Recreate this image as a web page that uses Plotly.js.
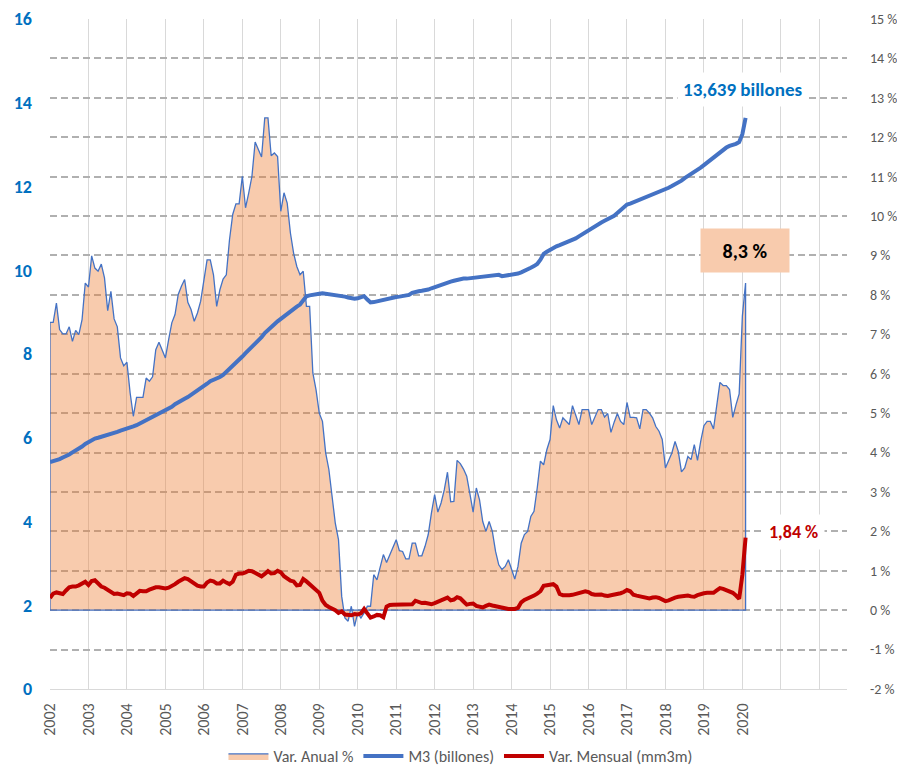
<!DOCTYPE html>
<html>
<head>
<meta charset="utf-8">
<script src="https://cdn.plot.ly/plotly-3.0.1.min.js"></script>
<style>
html,body{margin:0;padding:0;background:#fff;}
#chart{width:897px;height:770px;}
#chart .gridlayer path{shape-rendering:crispEdges;}
</style>
</head>
<body>
<div id="chart"></div>
<script>
// Monthly data starting January 2002
const START_YEAR = 2002;

// Var. Anual % (right axis)
const annualVar = [
  7.30, 7.30, 7.79, 7.12, 7.01, 7.01, 7.19, 6.82, 7.10, 6.99, 7.37, 8.30,
  8.20, 8.99, 8.68, 8.60, 8.78, 8.43, 7.60, 8.09, 7.39, 7.19, 6.40, 6.20,
  6.29, 5.51, 4.92, 5.40, 5.40, 5.40, 5.89, 5.81, 5.92, 6.61, 6.80, 6.60,
  6.40, 6.86, 7.29, 7.50, 8.01, 8.22, 8.39, 7.81, 7.63, 7.33, 7.54, 7.84,
  8.43, 8.89, 8.89, 8.51, 7.71, 8.13, 8.40, 8.51, 9.40, 10.04, 10.31, 10.31,
  11.01, 10.21, 10.59, 11.01, 11.88, 11.68, 11.50, 12.49, 12.49, 11.53, 11.60, 11.51,
  10.12, 10.59, 10.33, 9.57, 9.06, 8.72, 8.51, 8.60, 7.71, 7.71, 6.02, 5.59,
  5.00, 4.79, 3.99, 3.57, 2.89, 2.21, 1.79, 0.35, -0.20, -0.28, 0.10, -0.41,
  -0.07, -0.20, -0.07, 0.10, 0.10, 0.90, 0.77, 1.07, 1.41, 1.21, 1.41, 1.62,
  1.79, 1.51, 1.49, 1.30, 1.30, 1.70, 1.70, 1.38, 1.38, 1.62, 1.92, 2.47,
  2.93, 2.49, 2.72, 3.05, 3.50, 2.75, 2.76, 3.80, 3.72, 3.58, 3.40, 2.95,
  2.49, 3.10, 2.80, 2.25, 2.00, 2.25, 2.00, 1.49, 1.15, 1.03, 1.11, 1.28,
  1.03, 0.79, 1.11, 1.70, 1.92, 2.00, 2.38, 2.51, 3.10, 3.78, 3.69, 4.07,
  4.33, 5.19, 4.83, 4.62, 4.88, 4.79, 4.71, 5.19, 4.92, 4.71, 5.09, 5.09,
  5.09, 4.71, 4.88, 5.09, 5.09, 4.90, 4.99, 4.51, 4.77, 4.99, 4.79, 4.71,
  5.27, 4.89, 4.89, 4.88, 4.60, 5.09, 5.09, 5.00, 4.88, 4.66, 4.54, 4.33,
  3.61, 3.78, 3.99, 4.28, 4.03, 3.51, 3.61, 3.90, 3.82, 4.20, 3.80, 4.28,
  4.68, 4.79, 4.79, 4.60, 5.26, 5.78, 5.70, 5.70, 5.60, 4.89, 5.21, 5.49,
  7.46, 8.30
];

// M3 (billones) (left axis)
const m3 = [
  5.42, 5.44, 5.47, 5.49, 5.53, 5.56, 5.60, 5.65, 5.69, 5.74, 5.79, 5.85,
  5.90, 5.95, 5.98, 6.00, 6.02, 6.04, 6.06, 6.09, 6.12, 6.14, 6.17, 6.19,
  6.21, 6.24, 6.27, 6.30, 6.34, 6.38, 6.42, 6.46, 6.50, 6.53, 6.57, 6.61,
  6.64, 6.68, 6.74, 6.80, 6.85, 6.89, 6.93, 6.97, 7.02, 7.07, 7.12, 7.17,
  7.23, 7.29, 7.35, 7.38, 7.42, 7.45, 7.50, 7.57, 7.63, 7.70, 7.78, 7.86,
  7.94, 8.02, 8.09, 8.16, 8.25, 8.33, 8.40, 8.50, 8.58, 8.64, 8.71, 8.78,
  8.84, 8.91, 8.98, 9.04, 9.08, 9.13, 9.18, 9.28, 9.38, 9.40, 9.42, 9.43,
  9.44, 9.45, 9.44, 9.43, 9.42, 9.42, 9.41, 9.39, 9.37, 9.35, 9.33, 9.32,
  9.33, 9.35, 9.38, 9.30, 9.23, 9.24, 9.26, 9.28, 9.29, 9.31, 9.32, 9.34,
  9.36, 9.37, 9.39, 9.40, 9.41, 9.46, 9.49, 9.50, 9.51, 9.52, 9.54, 9.57,
  9.60, 9.62, 9.65, 9.68, 9.71, 9.73, 9.75, 9.77, 9.79, 9.80, 9.80, 9.81,
  9.81, 9.83, 9.84, 9.86, 9.87, 9.88, 9.88, 9.89, 9.89, 9.86, 9.87, 9.90,
  9.91, 9.91, 9.92, 9.95, 9.98, 10.02, 10.06, 10.10, 10.15, 10.25, 10.39, 10.44,
  10.49, 10.53, 10.57, 10.60, 10.63, 10.66, 10.69, 10.71, 10.76, 10.81, 10.86, 10.91,
  10.96, 11.01, 11.06, 11.11, 11.14, 11.18, 11.22, 11.26, 11.30, 11.37, 11.44, 11.51,
  11.57, 11.59, 11.62, 11.65, 11.68, 11.72, 11.76, 11.79, 11.82, 11.85, 11.87, 11.90,
  11.93, 11.97, 12.01, 12.05, 12.09, 12.14, 12.20, 12.25, 12.29, 12.33, 12.39, 12.45,
  12.51, 12.57, 12.63, 12.68, 12.75, 12.82, 12.89, 12.93, 12.97, 12.99, 13.02, 13.06,
  13.25, 13.64
];

// Var. Mensual (mm3m) (right axis)
const monthlyVar = [
  0.31, 0.42, 0.45, 0.44, 0.41, 0.50, 0.58, 0.60, 0.60, 0.63, 0.68, 0.72,
  0.64, 0.74, 0.76, 0.66, 0.60, 0.57, 0.52, 0.46, 0.41, 0.42, 0.40, 0.38,
  0.43, 0.42, 0.36, 0.42, 0.49, 0.48, 0.48, 0.52, 0.56, 0.58, 0.58, 0.57,
  0.55, 0.57, 0.61, 0.66, 0.72, 0.77, 0.81, 0.79, 0.74, 0.68, 0.62, 0.60,
  0.60, 0.70, 0.75, 0.73, 0.68, 0.68, 0.75, 0.70, 0.66, 0.72, 0.90, 0.93,
  0.93, 0.96, 1.00, 0.99, 0.95, 0.91, 0.86, 0.92, 0.99, 0.93, 0.94, 1.00,
  0.96, 0.86, 0.79, 0.75, 0.73, 0.63, 0.64, 0.79, 0.73, 0.66, 0.61, 0.53,
  0.44, 0.24, 0.13, 0.08, 0.04, 0.00, -0.07, -0.03, -0.11, -0.13, -0.13, -0.10,
  -0.11, -0.08, 0.03, -0.08, -0.19, -0.16, -0.12, -0.13, -0.18, 0.09, 0.13, 0.14,
  0.14, 0.14, 0.15, 0.16, 0.15, 0.15, 0.24, 0.20, 0.18, 0.19, 0.17, 0.15,
  0.18, 0.22, 0.25, 0.28, 0.32, 0.25, 0.27, 0.33, 0.30, 0.22, 0.14, 0.16,
  0.17, 0.11, 0.08, 0.07, 0.11, 0.14, 0.12, 0.10, 0.08, 0.06, 0.05, 0.03,
  0.03, 0.03, 0.06, 0.20, 0.26, 0.29, 0.32, 0.37, 0.42, 0.48, 0.62, 0.63,
  0.65, 0.66, 0.60, 0.41, 0.38, 0.37, 0.38, 0.39, 0.41, 0.43, 0.45, 0.48,
  0.46, 0.41, 0.39, 0.40, 0.40, 0.37, 0.36, 0.38, 0.39, 0.41, 0.43, 0.46,
  0.51, 0.48, 0.39, 0.37, 0.35, 0.35, 0.33, 0.30, 0.32, 0.33, 0.31, 0.26,
  0.23, 0.25, 0.29, 0.32, 0.34, 0.35, 0.36, 0.37, 0.35, 0.34, 0.38, 0.41,
  0.43, 0.44, 0.44, 0.44, 0.50, 0.56, 0.54, 0.51, 0.49, 0.44, 0.37, 0.29,
  0.90, 1.84
];

const yearTicks = [2002, 2003, 2004, 2005, 2006, 2007, 2008, 2009, 2010, 2011, 2012,
                   2013, 2014, 2015, 2016, 2017, 2018, 2019, 2020, 2021, 2022];
const yearLabels = ['2002', '2003', '2004', '2005', '2006', '2007', '2008', '2009', '2010', '2011', '2012',
                    '2013', '2014', '2015', '2016', '2017', '2018', '2019', '2020', '', ''];
const pctTicks = [-2, -1, 0, 1, 2, 3, 4, 5, 6, 7, 8, 9, 10, 11, 12, 13, 14, 15];
const pctLabels = ['-2 %', '-1 %', '0 %', '1 %', '2 %', '3 %', '4 %', '5 %', '6 %', '7 %', '8 %',
                   '9 %', '10 %', '11 %', '12 %', '13 %', '14 %', '15 %'];
const m3Ticks = [0, 2, 4, 6, 8, 10, 12, 14, 16];

const seriesNames = ['Var. Anual %', 'M3 (billones)', 'Var. Mensual (mm3m)'];
const labelM3 = '13,639 billones';
const labelAnnual = '8,3 %';
const labelMonthly = '1,84 %';

// month positions as decimal years
const n = annualVar.length;
const xs = [];
for (let i = 0; i < n; i++) xs.push(START_YEAR + i / 12);

// closed polygon so the area has an outline on the baseline too (as in Excel)
const areaX = [xs[0]].concat(xs, [xs[n - 1], xs[0]]);
const areaY = [0].concat(annualVar, [0, 0]);

const FONT = 'Carlito, Calibri, Lato, sans-serif';
const GRAY = '#595959';

const traces = [
  {
    x: areaX, y: areaY, yaxis: 'y', type: 'scatter', mode: 'lines',
    fill: 'toself', fillcolor: 'rgba(237,125,49,0.4)',
    line: {color: '#4472C4', width: 1.3},
    name: seriesNames[0], hoverinfo: 'skip'
  },
  {
    x: xs, y: m3, yaxis: 'y2', type: 'scatter', mode: 'lines',
    line: {color: '#4472C4', width: 4},
    name: seriesNames[1], hoverinfo: 'skip'
  },
  {
    x: xs, y: monthlyVar, yaxis: 'y', type: 'scatter', mode: 'lines',
    line: {color: '#C00000', width: 4},
    name: seriesNames[2], hoverinfo: 'skip'
  }
];

const lastX = xs[n - 1];

const layout = {
  width: 897, height: 770,
  paper_bgcolor: '#ffffff', plot_bgcolor: '#ffffff',
  margin: {l: 50, r: 50, t: 19, b: 81, pad: 0, autoexpand: false},
  font: {family: FONT, color: GRAY},
  showlegend: true,
  legend: {
    orientation: 'h', x: 0.515, xanchor: 'center', y: -0.1, yanchor: 'middle',
    font: {family: FONT, size: 16, color: GRAY}, itemwidth: 40, tracegroupgap: 0,
    traceorder: 'normal'
  },
  xaxis: {
    type: 'linear', range: [2002, 2022.72], autorange: false,
    tickmode: 'array', tickvals: yearTicks, ticktext: yearLabels,
    tickangle: -90, ticks: '', ticklabelstandoff: 7,
    tickfont: {family: FONT, size: 16, color: GRAY},
    showgrid: true, gridcolor: '#D9D9D9', gridwidth: 1,
    showline: true, linecolor: '#D9D9D9', linewidth: 1,
    zeroline: false, automargin: false, fixedrange: true
  },
  yaxis: {
    side: 'right', range: [-2, 15], autorange: false,
    tickmode: 'array', tickvals: pctTicks, ticktext: pctLabels,
    ticks: '', ticklabelstandoff: 22,
    tickfont: {family: FONT, size: 14, color: GRAY},
    showgrid: true, gridcolor: '#B0B0B0', gridwidth: 2, griddash: '7px,4px',
    zeroline: false, showline: false, automargin: false, fixedrange: true
  },
  yaxis2: {
    overlaying: 'y', side: 'left', range: [0, 16], autorange: false,
    tickmode: 'array', tickvals: m3Ticks,
    ticks: '', ticklabelstandoff: 17,
    tickfont: {family: FONT, size: 18, color: '#0070C0', weight: 'bold'},
    showgrid: false, zeroline: false, showline: false, automargin: false, fixedrange: true
  },
  annotations: [
    {
      x: lastX, y: m3[n - 1], xref: 'x', yref: 'y2',
      text: '<b>' + labelM3 + '</b>', showarrow: false,
      xshift: -3, yshift: 28, xanchor: 'center', yanchor: 'middle',
      font: {family: FONT, size: 19, color: '#0070C0'},
      bgcolor: '#ffffff', borderpad: 5
    },
    {
      x: lastX, y: annualVar[n - 1], xref: 'x', yref: 'y',
      text: '<b>' + labelAnnual + '</b>', showarrow: false,
      xshift: -1, yshift: 33, xanchor: 'center', yanchor: 'middle',
      font: {family: FONT, size: 20, color: '#000000'},
      bgcolor: '#F8CBAD', width: 84, height: 39, borderpad: 2, align: 'center'
    },
    {
      x: lastX, y: monthlyVar[n - 1], xref: 'x', yref: 'y',
      text: '<b>' + labelMonthly + '</b>', showarrow: false,
      xshift: 48, yshift: 6, xanchor: 'center', yanchor: 'middle',
      font: {family: FONT, size: 18, color: '#C00000'},
      bgcolor: '#ffffff', borderpad: 6
    }
  ]
};

Plotly.newPlot('chart', traces, layout, {staticPlot: true, displayModeBar: false});
</script>
</body>
</html>
